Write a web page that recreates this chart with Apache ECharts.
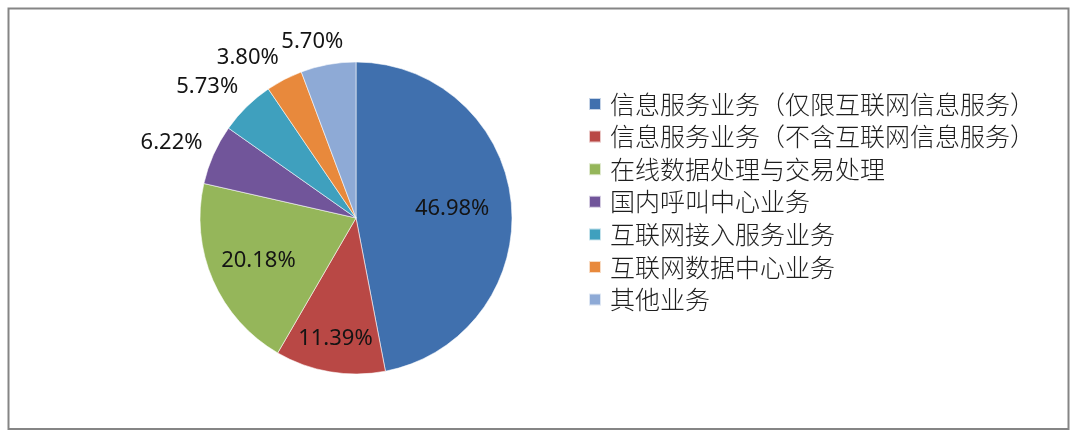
<!DOCTYPE html>
<html>
<head>
<meta charset="utf-8">
<script src="https://cdn.jsdelivr.net/npm/echarts@6/dist/echarts.min.js"></script>
<style>
html,body{margin:0;padding:0;background:#fff;}
#c{width:1080px;height:443px;}
</style>
</head>
<body>
<div id="c"></div>
<script>
const categories = [
  '信息服务业务（仅限互联网信息服务）',
  '信息服务业务（不含互联网信息服务）',
  '在线数据处理与交易处理',
  '国内呼叫中心业务',
  '互联网接入服务业务',
  '互联网数据中心业务',
  '其他业务'
];
const shares = [46.98, 11.39, 20.18, 6.22, 5.73, 3.80, 5.70];
const colors = ['#4070AE', '#B94845', '#95B65A', '#71559A', '#3FA0BE', '#E8893C', '#8EAAD6'];

const CX = 356, CY = 218, R = 156;
const total = shares.reduce((a, b) => a + b, 0);
const midAngles = [];
(function () {
  let acc = 0;
  shares.forEach(v => {
    midAngles.push((acc + v / 2) / total * 2 * Math.PI);
    acc += v;
  });
})();
const clamp = (v) => Math.max(-1, Math.min(1, v));

const chart = echarts.init(document.getElementById('c'), null, {renderer: 'canvas'});
chart.setOption({
  animation: false,
  color: colors,
  graphic: [{
    type: 'rect',
    shape: {x: 8.5, y: 8.5, width: 1060, height: 420.5},
    style: {fill: 'none', stroke: '#858585', lineWidth: 2},
    silent: true
  }],
  legend: {
    orient: 'vertical',
    left: 588,
    top: 91,
    padding: 0,
    itemGap: 6.6,
    itemWidth: 12,
    itemHeight: 12,
    icon: 'rect',
    textStyle: {
      fontFamily: '"Noto Sans CJK SC", sans-serif',
      fontSize: 25,
      fontWeight: 300,
      lineHeight: 26,
      color: '#1e1e1e',
      padding: [0, 0, 0, 4]
    },
    data: categories
  },
  series: [{
    type: 'pie',
    center: [CX, CY],
    radius: R,
    startAngle: 90,
    clockwise: true,
    avoidLabelOverlap: false,
    itemStyle: {borderColor: 'rgba(255,255,255,0.7)', borderWidth: 0.8},
    label: {
      show: true,
      position: 'inside',
      formatter: (p) => shares[p.dataIndex].toFixed(2) + '%',
      fontFamily: '"Noto Sans", sans-serif',
      fontSize: 22,
      color: '#141414'
    },
    labelLine: {show: false},
    labelLayout: function (params) {
      const i = params.dataIndex;
      const th = midAngles[i];
      const dx = Math.sin(th), dy = -Math.cos(th);
      const a = params.labelRect.width / 2, b = params.labelRect.height / 2;
      let x, y;
      if (shares[i] >= 10) {
        const t = Math.min(Math.abs(dx) > 1e-6 ? a / Math.abs(dx) : 1e9, Math.abs(dy) > 1e-6 ? b / Math.abs(dy) : 1e9);
        const d = R - 22 - t;
        x = CX + dx * d; y = CY + dy * d;
      } else {
        const d = R + 12;
        x = CX + dx * d + a * clamp(dx * 2.5);
        y = CY + dy * d + b * clamp(dy * 1.5);
      }
      return {x: x, y: y, align: 'center', verticalAlign: 'middle'};
    },
    data: categories.map((c, i) => ({name: c, value: shares[i]}))
  }]
});
</script>
</body>
</html>
